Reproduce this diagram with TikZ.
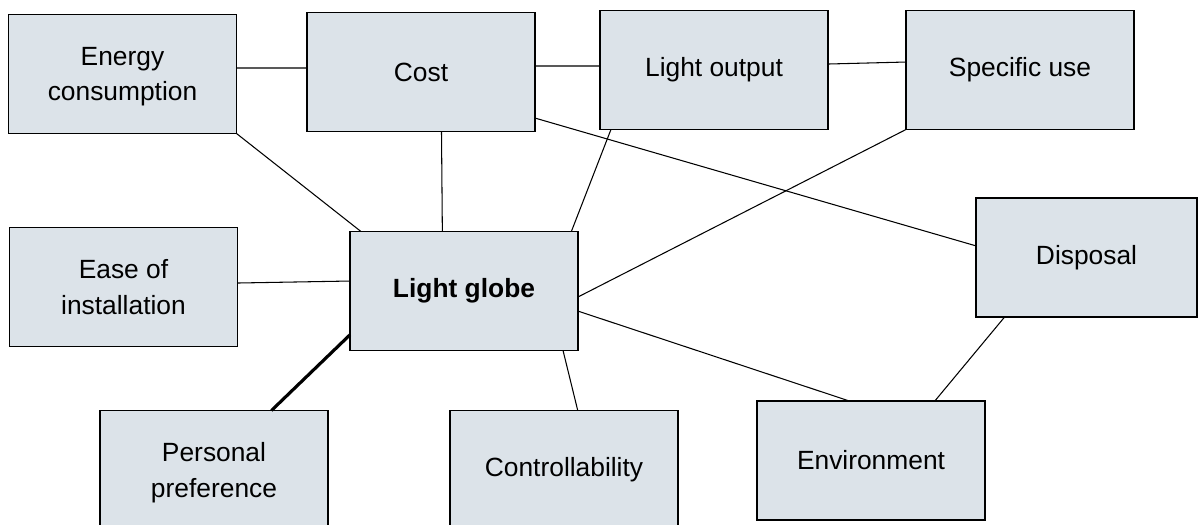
\documentclass[tikz,border=0pt]{standalone}
\usepackage{fontspec}
\setmainfont{Liberation Sans}
\usepackage{tikz}
\usetikzlibrary{positioning}
\usepackage{xcolor}
\definecolor{boxfill}{RGB}{220,227,233}

\begin{document}
\begin{tikzpicture}[
    factor/.style={rectangle, draw=black, fill=boxfill, line width=0.9pt, inner sep=0pt, outer sep=0pt,
                   minimum width=4.56cm, minimum height=2.38cm, align=center,
                   font=\fontsize{15}{20}\selectfont},
    twoline/.style={factor, text depth=0pt},
    link/.style={line width=0.6pt, black},
    thicklink/.style={line width=1.8pt, black},
]
    \useasboundingbox (0,0) rectangle (24,-10.48);

    % Top row
    \node[twoline] (energy) at (2.45,-1.48) {Energy\\consumption};
    \node[factor] (cost) at (8.42,-1.44) {Cost};
    \node[factor] (lightout) at (14.28,-1.40) {Light output};
    \node[factor] (specuse) at (20.40,-1.40) {Specific use};

    % Middle row
    \node[twoline] (ease) at (2.47,-5.74) {Ease of\\installation};
    \node[factor, font=\fontsize{15}{20}\selectfont\bfseries] (globe) at (9.28,-5.82) {Light globe};
    \node[factor, minimum width=4.42cm] (disposal) at (21.73,-5.15) {Disposal};

    % Bottom row
    \node[twoline] (personal) at (4.28,-9.40) {Personal\\preference};
    \node[factor] (control) at (11.28,-9.40) {Controllability};
    \node[factor] (environ) at (17.42,-9.21) {Environment};

    % Links along the top
    \draw[link] (energy.3) -- (cost.178);
    \draw[link] (cost.3) -- (lightout.178);
    \draw[link] (lightout.3.5) -- (specuse.176.5);

    % Links into the light globe
    \draw[link] (energy.south east) -- (globe.150);
    \draw[link] (cost.-71.6) -- (globe.110.3);
    \draw[link] (lightout.210.5) -- (globe.29.8);
    \draw[link] (specuse.south west) -- (globe.-3);
    \draw[link] (ease.2) -- (globe.175.5);
    \draw[link] (globe.-31.5) -- (control.77.1);
    \draw[link] (globe.-10.9) -- (environ.110.4);
    \draw[thicklink] (globe.201) -- (personal.46);

    % Disposal links
    \draw[link] (cost.-22.7) -- (disposal.174.3);
    \draw[link] (disposal.216) -- (environ.43.1);
\end{tikzpicture}
\end{document}
